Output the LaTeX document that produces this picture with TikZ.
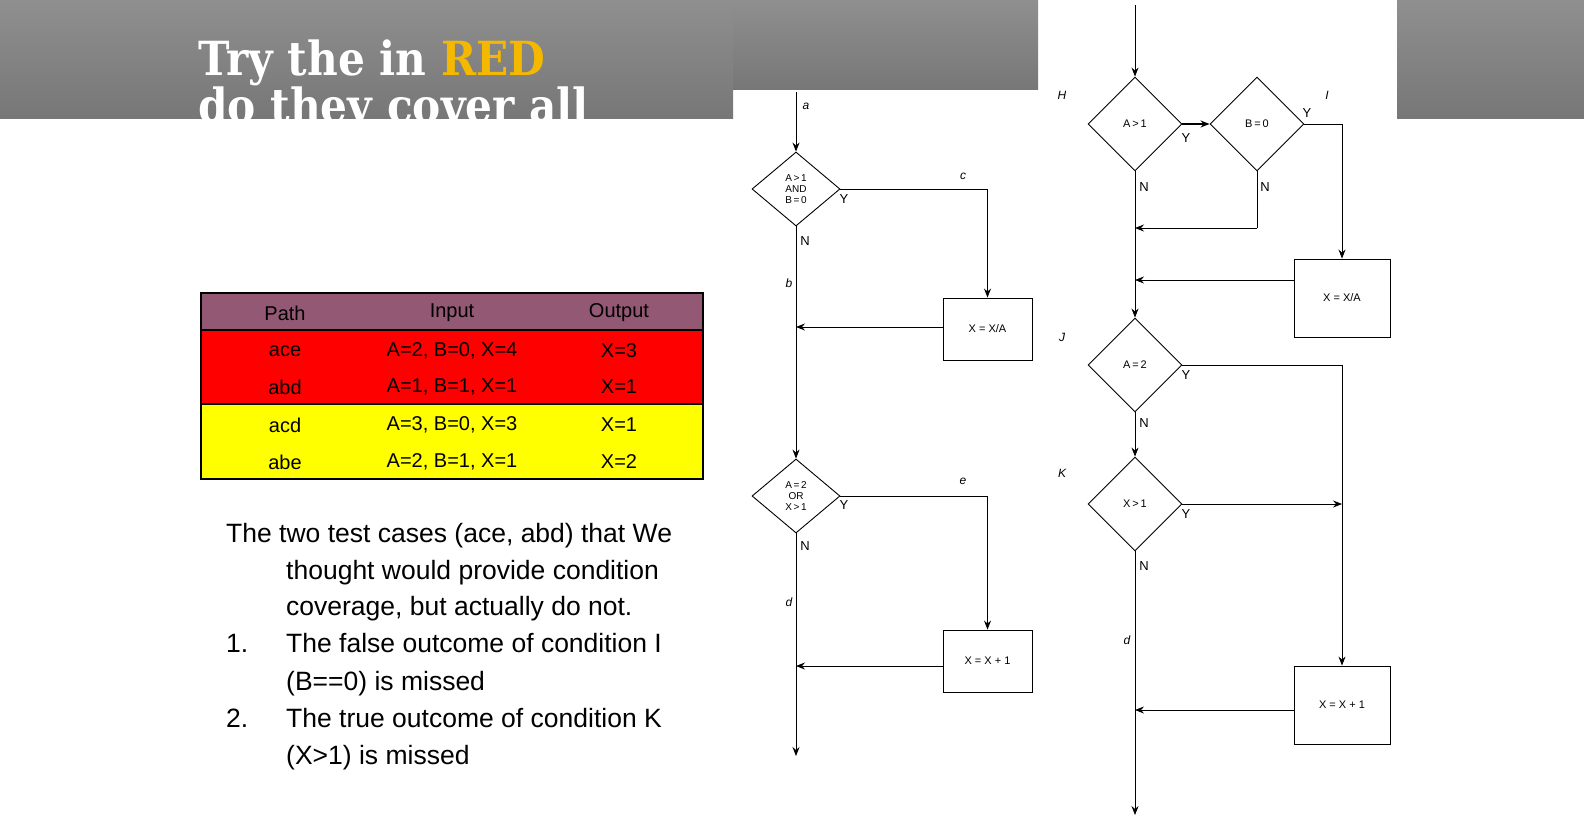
\documentclass[tikz,border=0pt]{standalone}
\usepackage{fontspec}
\setmainfont{Liberation Sans}
\newfontfamily\titlefont{DejaVu Serif Condensed}
\usetikzlibrary{shapes.geometric,arrows.meta}
\definecolor{bannertop}{HTML}{8F8F8F}
\definecolor{bannerbot}{HTML}{777777}
\definecolor{titlegold}{HTML}{F5B800}
\definecolor{hdr}{HTML}{935873}
\definecolor{rowred}{HTML}{FF0000}
\definecolor{rowyel}{HTML}{FFFF00}
\begin{document}
\begin{tikzpicture}[x=1pt,y=-1pt,
  dia/.style={draw,line width=0.9pt,diamond,minimum width=94pt,minimum height=94pt,inner sep=0pt,font=\fontsize{11}{12}\selectfont,align=center,fill=white},
  ldia/.style={draw,line width=0.9pt,diamond,aspect=1.19,minimum width=88pt,minimum height=74pt,inner sep=0pt,font=\fontsize{10}{11}\selectfont,align=center,fill=white},
  box/.style={draw,line width=0.9pt,rectangle,fill=white,font=\fontsize{11}{12}\selectfont},
  lab/.style={font=\fontsize{13}{13}\selectfont},
  ilab/.style={font=\fontsize{12}{12}\selectfont\itshape},
  flow/.style={line width=0.8pt},
  arr/.style={line width=0.8pt,-{Stealth[length=9pt,width=7pt,inset=3pt]}},
  cell/.style={font=\fontsize{20}{22}\selectfont,anchor=center},
  body/.style={font=\fontsize{26.5}{36}\selectfont,anchor=base west}]
\useasboundingbox (0,0) rectangle (1584,819);
\fill[white] (0,0) rectangle (1584,819);
% banner
\shade[top color=bannertop,bottom color=bannerbot] (0,0) rectangle (733,118);
\shade[top color=bannertop,bottom color=bannerbot] (733,0) rectangle (1038,89);
\shade[top color=bannertop,bottom color=bannerbot] (1397,0) rectangle (1584,118);
\begin{scope}
\clip (0,0) rectangle (733,118);
\node[anchor=base west,inner sep=0pt,text=white,font=\titlefont\bfseries\fontsize{47}{48}\selectfont] (t1) at (198,75) {Try the in \textcolor{titlegold}{RED}};
\node[anchor=base west,inner sep=0pt,text=white,font=\titlefont\bfseries\fontsize{47}{48}\selectfont] (t2) at (198,122) {do they cover all};
\end{scope}
% table
\fill[hdr] (201,293) rectangle (703,330);
\fill[rowred] (201,330) rectangle (703,404);
\fill[rowyel] (201,404) rectangle (703,479);
\draw[line width=1.8pt] (201,293) rectangle (703,479);
\draw[line width=1.8pt] (201,330) -- (703,330);
\draw[line width=1.5pt] (201,404) -- (703,404);
\node[cell] (h1) at (285,313) {Path};
\node[cell] (h2) at (452,313) {Input};
\node[cell] (h3) at (619,313) {Output};
\node[cell] (r1a) at (285,351) {ace}; \node[cell] (r1b) at (452,351) {A=2, B=0, X=4}; \node[cell] (r1c) at (619,351) {X=3};
\node[cell] (r2a) at (285,387) {abd}; \node[cell] (r2b) at (452,387) {A=1, B=1, X=1}; \node[cell] (r2c) at (619,387) {X=1};
\node[cell] (r3a) at (285,425) {acd}; \node[cell] (r3b) at (452,425) {A=3, B=0, X=3}; \node[cell] (r3c) at (619,425) {X=1};
\node[cell] (r4a) at (285,462) {abe}; \node[cell] (r4b) at (452,462) {A=2, B=1, X=1}; \node[cell] (r4c) at (619,462) {X=2};
% body text
\node[body,inner sep=0pt] (p1) at (226,542) {The two test cases (ace, abd) that We};
\node[body,inner sep=0pt] (p2) at (286,579) {thought would provide condition};
\node[body,inner sep=0pt] (p3) at (286,615) {coverage, but actually do not.};
\node[body,inner sep=0pt] (n1) at (226,652) {1.};
\node[body,inner sep=0pt] (p4) at (286,652) {The false outcome of condition I};
\node[body,inner sep=0pt] (p5) at (286,690) {(B==0) is missed};
\node[body,inner sep=0pt] (n2) at (226,727) {2.};
\node[body,inner sep=0pt] (p6) at (286,727) {The true outcome of condition K};
\node[body,inner sep=0pt] (p7) at (286,764) {(X>1) is missed};
% left flowchart
\coordinate (ls) at (796,92);
\node[ldia] (d1) at (796,189) {A\,>\,1\\AND\\B\,=\,0};
\node[box,minimum width=89pt,minimum height=62pt] (b1) at (987.5,329) {X = X/A};
\node[ldia] (d2) at (796,496) {A\,=\,2\\OR\\X\,>\,1};
\node[box,minimum width=89pt,minimum height=62pt] (b2) at (987.5,661) {X = X + 1};
\coordinate (j1) at (796,327);
\coordinate (j2) at (796,666);
\coordinate (le) at (796,756);
\draw[arr] (ls) -- (d1.north);
\draw[flow] (d1.east) -- (d1.east -| b1.north) coordinate (c1);
\draw[arr] (c1) -- (b1.north);
\draw[arr] (b1.west |- j1) -- (j1);
\draw[arr] (d1.south) -- (d2.north);
\draw[flow] (d2.east) -- (d2.east -| b2.north) coordinate (c2);
\draw[arr] (c2) -- (b2.north);
\draw[arr] (b2.west |- j2) -- (j2);
\draw[arr] (d2.south) -- (le);
\node[ilab] (la) at (806,106) {a};
\node[lab] (ly1) at (844,199) {Y};
\node[ilab] (lc) at (963,176) {c};
\node[lab] (ln1) at (805,241) {N};
\node[ilab] (lb) at (789,283) {b};
\node[lab] (ly2) at (844,505) {Y};
\node[ilab] (le2) at (963,481) {e};
\node[lab] (ln2) at (805,546) {N};
\node[ilab] (ld) at (789,602) {d};
% right flowchart
\node[dia] (H) at (1135,124) {A\,>\,1};
\node[dia] (I) at (1257,124) {B\,=\,0};
\node[box,minimum width=96pt,minimum height=78pt] (bx1) at (1342,298) {X = X/A};
\node[dia] (J) at (1135,365) {A\,=\,2};
\node[dia] (K) at (1135,504) {X\,>\,1};
\node[box,minimum width=96pt,minimum height=78pt] (bx2) at (1342,705) {X = X + 1};
\coordinate (rs) at (1135,5);
\coordinate (rj1) at (1135,228);
\coordinate (rj2) at (1135,280);
\coordinate (rj3) at (1135,710);
\coordinate (re) at (1135,815);
\draw[arr] (rs) -- (H.north);
\draw[arr,line width=1.6pt] (H.east) -- (I.west);
\draw[flow] (I.south) -- (I.south |- rj1) coordinate (c3);
\draw[arr] (c3) -- (rj1);
\draw[flow] (I.east) -- (I.east -| bx1.north) coordinate (c4);
\draw[arr] (c4) -- (bx1.north);
\draw[arr] (bx1.west |- rj2) -- (rj2);
\draw[arr] (H.south) -- (J.north);
\draw[arr] (J.south) -- (K.north);
\draw[flow] (J.east) -- (J.east -| bx2.north) coordinate (c5);
\draw[arr] (c5) -- (bx2.north);
\draw[arr] (K.east) -- (K.east -| bx2.north);
\draw[arr] (bx2.west |- rj3) -- (rj3);
\draw[arr] (K.south) -- (re);
\node[ilab] (lH) at (1062,95) {H};
\node[ilab] (lI) at (1327,95) {I};
\node[lab] (lyH) at (1186,138) {Y};
\node[lab] (lyI) at (1307,113) {Y};
\node[lab] (lnH) at (1144,187) {N};
\node[lab] (lnI) at (1265,187) {N};
\node[ilab] (lJ) at (1062,337) {J};
\node[lab] (lyJ) at (1186,375) {Y};
\node[lab] (lnJ) at (1144,423) {N};
\node[ilab] (lK) at (1062,473) {K};
\node[lab] (lyK) at (1186,514) {Y};
\node[lab] (lnK) at (1144,566) {N};
\node[ilab] (ldR) at (1127,640) {d};
\end{tikzpicture}
\end{document}
